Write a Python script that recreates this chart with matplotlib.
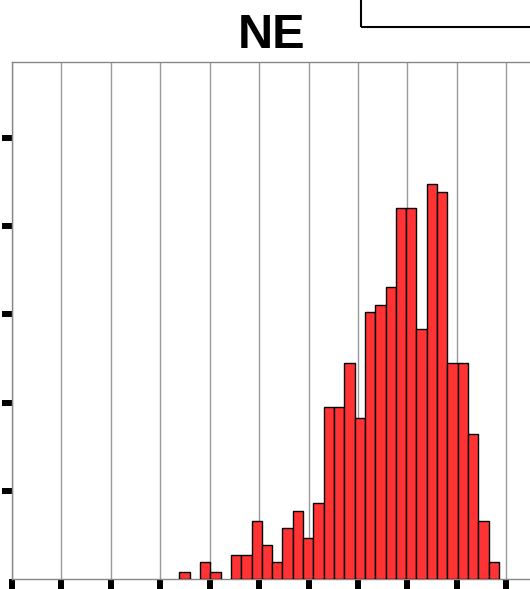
import numpy as np
import matplotlib
matplotlib.use("Agg")
import matplotlib.pyplot as plt
from matplotlib.patches import Rectangle

# ---- data ----
title = "NE"
bin_start = 3.387
bin_width = 0.2085
counts = [0.8, 0.0, 1.9, 0.8, 0.0, 2.7, 2.7, 6.6, 3.9, 1.9,
          5.8, 7.7, 4.6, 8.6, 19.5, 19.5, 24.5, 18.3, 30.3, 31.1,
          33.1, 42.0, 42.0, 28.3, 44.8, 43.9, 24.5, 24.5, 16.4, 6.6, 1.9]
x_ticks = [0, 1, 2, 3, 4, 5, 6, 7, 8, 9, 10]
y_ticks = [10, 20, 30, 40, 50]

W, H = 530, 589
fig = plt.figure(figsize=(W / 100, H / 100), dpi=100)
ax = fig.add_axes([12 / W, 10 / H, 519 / W, 517 / H])

counts_arr = np.array(counts)
lefts = bin_start + bin_width * np.arange(len(counts_arr))
mask = counts_arr > 0
ax.bar(lefts[mask], counts_arr[mask], width=bin_width, align="edge",
       color="#FF3333", edgecolor="black", linewidth=1.0, zorder=3)

ax.set_xlim(0, 10.5)
ax.set_ylim(0, 58.6)
ax.set_xticks(x_ticks)
ax.set_yticks(y_ticks)
ax.set_xticklabels([])
ax.set_yticklabels([])
ax.tick_params(axis="both", direction="out", length=7.5, width=4.3, color="black")
ax.grid(axis="x", color="#999999", linewidth=1.0, zorder=0)
for s in ax.spines.values():
    s.set_color("#888888")
    s.set_linewidth(1.0)

fig.text(271.5 / W, 1 - 35 / H, title, ha="center", va="center",
         fontsize=35, fontweight="bold", family=["Liberation Sans", "DejaVu Sans"])

# partial legend box at top right (cropped)
fig.patches.append(Rectangle((361 / W, 1 - 27 / H), 0.5, 0.2,
                             transform=fig.transFigure, fill=False,
                             edgecolor="black", linewidth=1.5))

fig.savefig("out.png", dpi=100)
